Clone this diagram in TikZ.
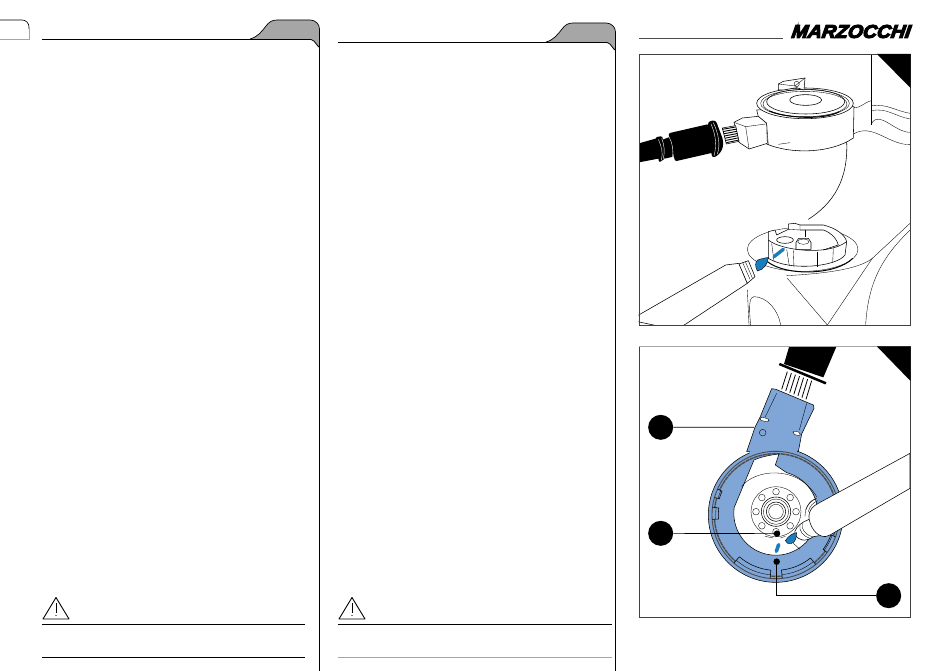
\documentclass[tikz,border=0pt]{standalone}
\usepackage{fontspec}
\usepackage{xcolor}
\usetikzlibrary{positioning,calc}
\newfontfamily\logofont[FakeBold=6,FakeSlant=0.14]{Liberation Sans}
\definecolor{toolblue}{HTML}{7FA6D6}
\definecolor{markblue}{HTML}{1B7DBE}
\definecolor{tabgray}{HTML}{A6A6A6}
\tikzset{callout node/.style={circle,fill=black,minimum size=25pt,inner sep=0pt},
  marker dot/.style={circle,fill=black,minimum size=6.5pt,inner sep=0pt},
  leader/.style={draw=black,line width=0.7pt},
  ink/.style={draw=black,line width=0.55pt,line join=round},
  fine/.style={draw=black,line width=0.35pt,line join=round},
  rim/.style={draw=black!70,line width=0.9pt},
  rule/.style={draw=black,line width=0.8pt},
  whiteink/.style={draw=white,line width=0.4pt}}
\begin{document}
\begin{tikzpicture}[x=1pt,y=-1pt]
  \useasboundingbox (0,0) rectangle (950,671);
  % page tabs
  \draw[line width=0.6pt] (0,20) -- (22,20) to[out=0,in=90] (29,27) -- (29,29);
  \draw[tabgray,line width=0.8pt] (29,29) -- (29,39) -- (0,39);
  \foreach \dx/\dy/\ruleend in {0/0/305,296/3/316} {
    \begin{scope}[xshift=\dx]
      \begin{scope}[yshift=-\dy]
        \fill[tabgray] (250,39) .. controls (258,37) and (262,31) .. (266,26) .. controls (269,22) and (272,20) .. (277,20) -- (310,20) to[out=0,in=90] (319.5,29) -- (319.5,46) to[out=-100,in=0] (311,39.5) -- cycle;
        \draw[line width=0.7pt] (250,39) .. controls (258,37) and (262,31) .. (266,26) .. controls (269,22) and (272,20) .. (277,20) -- (310,20) to[out=0,in=90] (319.5,29) -- (319.5,50);
        \draw[rule] (42,39.5) -- (311,39.5) to[out=0,in=-100] (319.5,46);
      \end{scope}
      \draw[line width=0.7pt] (319.5,50) -- (319.5,671);
      \draw[line width=0.9pt,line join=round] (56,597.5) -- (69,619) -- (43,619) -- cycle;
      \draw[line width=0.8pt] (56,603) -- (56,613);
      \fill (56,615.5) circle (0.6);
      \draw[rule] (42,624.5) -- (\ruleend,624.5);
    \end{scope}
  }
  \draw[rule] (42,657.5) -- (305,657.5);
  \draw[tabgray,line width=0.9pt] (338,657.5) -- (612,657.5);
  % logo
  \draw[line width=0.6pt,black!70] (639,38) -- (783,38);
  \node[font=\logofont\bfseries\itshape\fontsize{18.5}{19}\selectfont,inner sep=0pt,anchor=east,xscale=1.05] (brand) at (910,31.5) {MARZOCCHI};

  % upper panel
  \begin{scope}[shift={(630,10)},scale=1/3]
    \clip (25,133) rectangle (840,945);
    % fork leg
    \draw[fine] (725,133) -- (725,345);
    \draw[fine] (725,272) to[out=190,in=-10] (670,292);
    \draw[fine] (725,287) to[out=8,in=170] (840,310);
    \draw[fine] (725,302) to[out=12,in=170] (840,327);
    \draw[fine] (725,340) to[out=60,in=180] (840,367);
    \draw[fine] (670,372) to[out=30,in=180] (840,404);
    \draw[ink] (650,395) .. controls (655,510) and (610,580) .. (535,628);
    % nut on top
    \draw[ink,fill=white] (380,300) -- (385,320) -- (410,340) -- (410,402) .. controls (480,432) and (600,432) .. (670,384) -- (672,290) -- cycle;
    \draw[fine] (410,345) -- (415,405);
    \draw[ink,fill=white] (525,280) ellipse (145 and 46);
    \draw[fine] (525,280) ellipse (133 and 41);
    \draw[fine] (525,282) ellipse (126 and 38);
    \draw[ink] (527,275) ellipse (117 and 37);
    \draw[ink,fill=white] (445,222) -- (460,214) -- (525,204) -- (522,240) -- (500,233) -- (460,240) -- (445,240) -- cycle;
    \draw[fine] (445,222) -- (495,228) -- (525,204);
    \draw[fine] (500,222) circle (8);
    \draw[ink,fill=white] (527,270) ellipse (48 and 16);
    \draw[line width=1pt] (418,303) .. controls (480,328) and (590,328) .. (628,305);
    % socket end of the wrench
    \draw[ink,fill=white] (312,337) -- (337,324) -- (385,319) -- (410,340) -- (412,400) -- (357,417) -- (327,397) -- cycle;
    \draw[fine] (312,337) -- (347,350) -- (407,342);
    \draw[fine] (347,350) -- (357,417);
    \draw[fine] (445,403) -- (480,398);
    % splined shaft
    \draw[ink,fill=white] (277,354) -- (317,347) -- (327,394) -- (289,402) -- cycle;
    \foreach \k in {0,...,6} {
      \draw[line width=0.9pt] ($(277,358)!\k/6!(289,398)$) -- ($(317,351)!\k/6!(327,390)$);
    }
    % black handle
    \fill (27,400) -- (80,385) -- (90,445) -- (27,457) -- cycle;
    \fill[rounded corners=2pt] (76,382) -- (97,378) -- (107,444) -- (87,458) -- cycle;
    \fill (95,390) -- (122,380) -- (130,440) -- (104,446) -- cycle;
    \fill[rounded corners=2pt] (115,370) -- (237,342) -- (262,425) -- (135,454) -- cycle;
    \fill[rounded corners=3pt] (233,335) -- (257,330) -- (280,392) -- (278,418) -- (262,438) -- (246,444) -- cycle;
    \draw[whiteink] (85,388) .. controls (95,410) and (100,430) .. (94,450);
    \draw[whiteink] (95,385) .. controls (103,405) and (105,425) .. (100,446);
    \draw[whiteink] (117,380) .. controls (128,400) and (132,425) .. (126,447);
    \draw[whiteink] (243,342) .. controls (255,370) and (262,400) .. (252,438);
    \draw[whiteink] (250,338) .. controls (265,370) and (272,405) .. (262,432);
    % leg below
    \draw[fine] (840,640) -- (727,745) -- (592,945);
    \draw[fine] (840,660) .. controls (770,730) and (715,800) .. (707,945);
    \draw[fine] (352,840) -- (357,945);
    \draw[fine] (472,805) -- (592,945);
    \draw[fine] (727,745) .. controls (690,775) and (600,790) .. (470,797);
    \draw[fine] (362,945) .. controls (355,880) and (360,860) .. (372,860) .. controls (410,860) and (445,900) .. (452,945);
    % flange
    \draw[fine,fill=white] (518,718) ellipse (166 and 66);
    \draw[line width=1pt] (412,755) .. controls (470,800) and (620,795) .. (668,745);
    % castellated nut
    \draw[ink,fill=white] (415,690) -- (415,665) -- (435,660) -- (440,675) -- (475,658) -- (475,642) -- (495,640) -- (510,645) -- (580,645) .. controls (620,655) and (645,675) .. (650,695) -- (645,735) .. controls (620,770) and (480,785) .. (415,745) -- cycle;
    \draw[ink] (415,690) .. controls (450,720) and (590,740) .. (650,695);
    \draw[fine] (425,700) -- (432,754);
    \draw[fine] (470,718) -- (478,768);
    \draw[fine] (490,722) -- (492,772);
    \draw[fine] (560,726) -- (560,770);
    \draw[fine] (610,716) -- (608,758);
    \draw[ink] (510,660) -- (580,660) .. controls (605,668) and (622,690) .. (625,705) -- (580,720);
    \draw[fine] (475,658) -- (510,660) -- (510,645);
    \draw[fine] (525,660) -- (525,680);
    \draw[ink,fill=white] (465,690) ellipse (25 and 10);
    \draw[ink,fill=white] (498,697) -- (506,685) -- (535,685) -- (543,697) -- (543,718) -- (498,718) -- cycle;
    \draw[fine] (520,695) ellipse (17 and 8);
    \draw[markblue,line width=3.4pt,line cap=round] (432,740) -- (460,718);
    % marker pen
    \draw[ink,fill=white] (0,930) -- (287,765) -- (327,760) -- (352,820) -- (140,960) -- cycle;
    \draw[ink,fill=white] (327,762) -- (355,752) -- (375,800) -- (352,820) -- cycle;
    \draw[fine] (338,758) -- (360,808);
    \draw[fine] (346,755) -- (367,804);
    \draw[draw=black,line width=0.4pt,fill=markblue] (382,783) .. controls (375,770) and (375,755) .. (383,750) .. controls (395,745) and (405,745) .. (415,742) .. controls (414,760) and (402,780) .. (382,783) -- cycle;
  \end{scope}
  \draw[line width=0.9pt,black!75] (639,54) rectangle (910,325);
  \fill (877,54) -- (910.5,54) -- (910.5,88) -- cycle;

  % lower panel
  \begin{scope}[shift={(630,340)},scale=1/3]
    % handle
    \fill (478,18) -- (620,18) -- (580,112) -- (462,72) -- cycle;
    \draw[line width=2.5pt] (448,72) -- (588,130);
    \foreach \k in {0,...,6} {
      \draw[line width=0.8pt] ($(472,95)!\k/6!(545,122)$) -- ($(455,148)!\k/6!(528,178)$);
    }
    % wrench
    \draw[ink,fill=toolblue] (425,146) -- (438,148) -- (550,195) -- (552,205) -- (515,282) -- (505,335) -- (350,335) -- (375,262) -- (390,232) -- cycle;
    \draw[ink,fill=toolblue] (437,525) circle (202);
    \fill[toolblue] (360,320) rectangle (500,345);
    \draw[fine] (440,160) -- (405,232);
    \draw[fine] (530,190) -- (508,270);
    \draw[fine,fill=white,rounded corners=2pt] (392,230) -- (418,238) -- (415,247) -- (389,240) -- cycle;
    \draw[fine,fill=white,rounded corners=2pt] (490,272) -- (512,278) -- (510,288) -- (488,282) -- cycle;
    \draw[fine] (398,278) circle (10);
    % stepped rim, angles run clockwise because y points down
    \draw[rim] (437,525) circle (191);
    \draw[rim,line width=1.4pt,dash pattern=on 4pt off 0.6pt] (437,525) circle (184);
    \foreach \sa/\sb/\sr in {95/131/166,51/84/166,176/187/172,196/204/176,20/36/176} {
      \fill[toolblue] ([shift={(\sa:\sr)}]437,525) arc (\sa:\sb:\sr) -- ([shift={(\sb:195)}]437,525) arc (\sb:\sa:195) -- cycle;
      \draw[rim] ([shift={(\sa:191)}]437,525) arc (\sa:\sb:191);
      \draw[ink] ([shift={(\sa:191)}]437,525) -- ([shift={(\sa:\sr)}]437,525) arc (\sa:\sb:\sr) -- ([shift={(\sb:191)}]437,525);
      \draw[fine] ([shift={(\sa:180)}]437,525) arc (\sa:\sb:180);
    }
    % open centre
    \draw[ink,fill=white] (372,360) .. controls (395,350) and (420,345) .. (447,342) -- (436,375) -- (470,398) arc (-75:188:126) -- cycle;
    \draw[fine] (335,440) .. controls (370,390) and (500,370) .. (560,470);
    % hub
    \draw[fine] (438,515) circle (75);
    \draw[ink] (438,515) circle (44);
    \draw[fine] (438,515) circle (38);
    \draw[ink] (438,515) circle (29);
    \draw[fine] (438,515) circle (22);
    \foreach \a in {90,135,180,225,270,315,0,45} {
      \draw[fine,fill=white] ([shift={(\a:60)}]438,515) circle (10);
    }
    % marks
    \draw[fine] (405,589) -- (430,594);
    \draw[fine] (451,594) -- (466,589);
    \draw[markblue,line width=3.6pt,line cap=round] (439,634) -- (446,614);
    % pen
    \draw[fine] (490,610) -- (510,628);
    \draw[ink,fill=white] (522,545) .. controls (505,555) and (490,570) .. (495,585) .. controls (505,600) and (525,608) .. (550,590) -- (580,585) -- (555,530) -- cycle;
    \draw[fine] (510,555) .. controls (505,570) and (520,590) .. (540,595);
    \draw[fine] (517,550) .. controls (512,565) and (525,585) .. (548,590);
    \draw[fine] (527,510) .. controls (532,495) and (545,480) .. (558,476);
    \draw[fine] (535,515) .. controls (538,500) and (550,487) .. (563,482);
    \draw[fine] (525,530) .. controls (525,500) and (540,480) .. (560,475);
    \draw[ink,fill=white] (840,340) -- (565,490) .. controls (535,505) and (530,530) .. (545,560) .. controls (560,590) and (585,595) .. (600,585) -- (840,445) -- cycle;
    \draw[draw=black,line width=0.4pt,fill=markblue] (466,602) .. controls (475,588) and (490,578) .. (500,578) .. controls (500,595) and (495,607) .. (485,610) .. controls (475,612) and (468,610) .. (466,602) -- cycle;
    % labels
    \node[callout node] (refa) at (92,262) {};
    \node[callout node] (refb) at (92,580) {};
    \node[callout node] (refc) at (776,767) {};
    \node[marker dot] (dotb) at (441,581) {};
    \node[marker dot] (dotc) at (440,665) {};
    \coordinate (handle) at (372,262);
    \draw[leader] (refa) -- (handle);
    \draw[leader] (refb) -- (dotb);
    \draw[leader] (refc) -| (dotc);
  \end{scope}
  \draw[line width=0.9pt,black!75] (639,346) rectangle (910,617);
  \draw[tabgray,line width=0.9pt] (639,346) -- (877,346);
  \fill (877,346.5) -- (910.5,346.5) -- (910.5,381) -- cycle;
\end{tikzpicture}
\end{document}
